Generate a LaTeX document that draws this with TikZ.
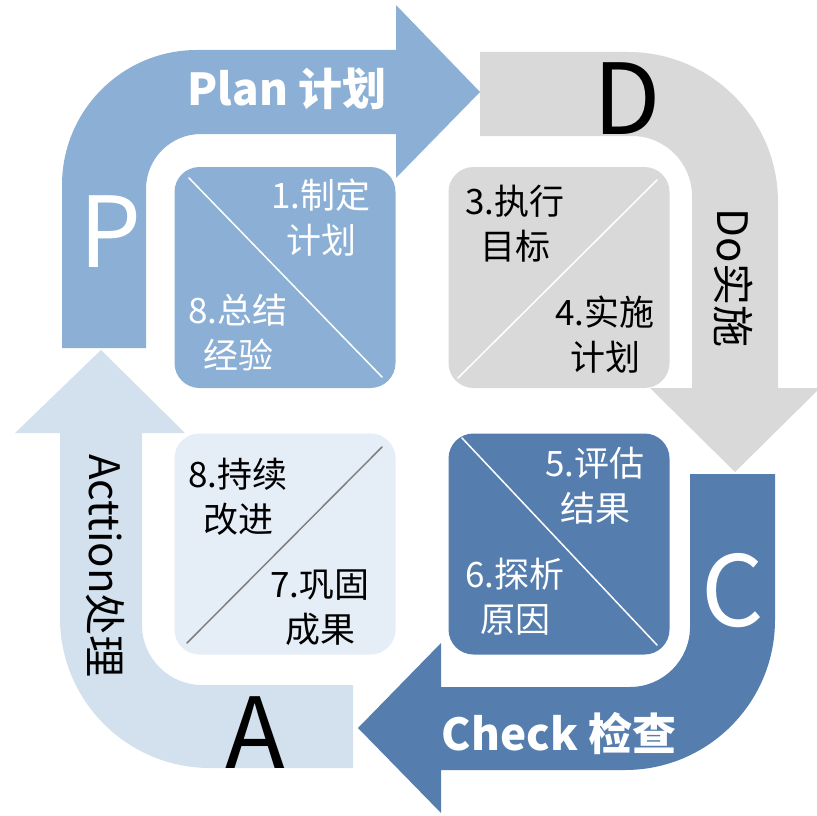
\documentclass[tikz,border=0pt]{standalone}
\usepackage{fontspec}
\setmainfont{Noto Sans CJK SC}
\definecolor{planblue}{RGB}{140,176,213}
\definecolor{dogray}{RGB}{217,217,217}
\definecolor{checkblue}{RGB}{85,126,175}
\definecolor{actblue}{RGB}{211,225,238}
\definecolor{actbox}{RGB}{229,237,246}
\definecolor{diaggray}{RGB}{128,128,128}
\begin{document}
\begin{tikzpicture}[x=1pt,y=-1pt,
  box/.style={rounded corners=25pt, minimum width=221pt, minimum height=221pt, inner sep=0pt, draw=none},
  boxtxt/.style={align=center, font=\fontsize{35}{45}\selectfont, inner sep=0pt},
  bigletter/.style={font=\fontsize{98}{98}\selectfont, inner sep=0pt, anchor=base},
  bandtxt/.style={font=\bfseries\fontsize{44}{44}\selectfont, inner sep=0pt, text=white, anchor=base},
  vtxt/.style={font=\fontsize{42}{42}\selectfont, rotate=-90, inner sep=0pt},
  diag/.style={line width=1.5pt, line cap=round}]
\fill[white] (0,0) rectangle (817,816);
\useasboundingbox (0,0) rectangle (817,816);
% Plan arrow
\fill[planblue] (62,348) -- (62,185) .. controls (62,110.4) and (122.4,50) .. (197,50)
  -- (396,50) -- (396,5) -- (480,92) -- (396,178) -- (396,134) -- (201,134)
  .. controls (170.6,134) and (146,158.6) .. (146,189) -- (146,348) -- cycle;
% Do arrow
\fill[dogray] (480,52) -- (628,52) .. controls (710.8,52) and (778,119.2) .. (778,202)
  -- (778,388) -- (820,388) -- (735,472) -- (650,388) -- (692,388) -- (692,196)
  .. controls (692,162.9) and (665.1,136) .. (632,136) -- (480,136) -- cycle;
% Check arrow
\fill[checkblue] (690,474) -- (775,474) -- (775,620) .. controls (775,702.8) and (707.8,770) .. (625,770)
  -- (441,770) -- (441,813) -- (358,728) -- (441,643) -- (441,687) -- (630,687)
  .. controls (663.1,687) and (690,660.1) .. (690,627) -- cycle;
% Action arrow
\fill[actblue] (353,768) -- (210,768) .. controls (127.2,768) and (60,700.8) .. (60,618)
  -- (60,433) -- (15,433) -- (101,350) -- (185,433) -- (142,433) -- (142,625)
  .. controls (142,658.1) and (168.9,685) .. (202,685) -- (353,685) -- cycle;
% boxes
\node[box, fill=planblue] (b1) at (285,277.5) {};
\node[box, fill=dogray] (b2) at (559,277.5) {};
\node[box, fill=actbox] (b3) at (285,544) {};
\node[box, fill=checkblue] (b4) at (559,544) {};
\draw[diag, white] (189,178) -- (382,377);
\draw[diag, white] (657,180) -- (458,378);
\draw[diag, diaggray] (382,447) -- (187,643);
\draw[diag, white] (462,438) -- (657,645);
% box texts
\node[boxtxt, text=white] (t1) at (321,218) {1.制定\\计划};
\node[boxtxt, text=white] (t8) at (238,333) {8.总结\\经验};
\node[boxtxt, text=black] (t3) at (515,224) {3.执行\\目标};
\node[boxtxt, text=black] (t4) at (605,335) {4.实施\\计划};
\node[boxtxt, text=black] (t8b) at (238,497) {8.持续\\改进};
\node[boxtxt, text=black] (t7) at (320,608) {7.巩固\\成果};
\node[boxtxt, text=white] (t5) at (595,486) {5.评估\\结果};
\node[boxtxt, text=white] (t6) at (515,597) {6.探析\\原因};
% big letters
\node[bigletter, text=white] (lp) at (111,267) {P};
\node[bigletter, text=black] (ld) at (627,135) {D};
\node[bigletter, text=white] (lc) at (733,626) {C};
\node[bigletter, text=black] (la) at (255,768) {A};
% band texts
\node[bandtxt] (plan) at (287,106) {Plan 计划};
\node[bandtxt] (check) at (559,750) {Check 检查};
\node[vtxt] (do) at (734,278) {Do实施};
\node[vtxt] (act) at (105,566) {Acttion处理};
\end{tikzpicture}
\end{document}
